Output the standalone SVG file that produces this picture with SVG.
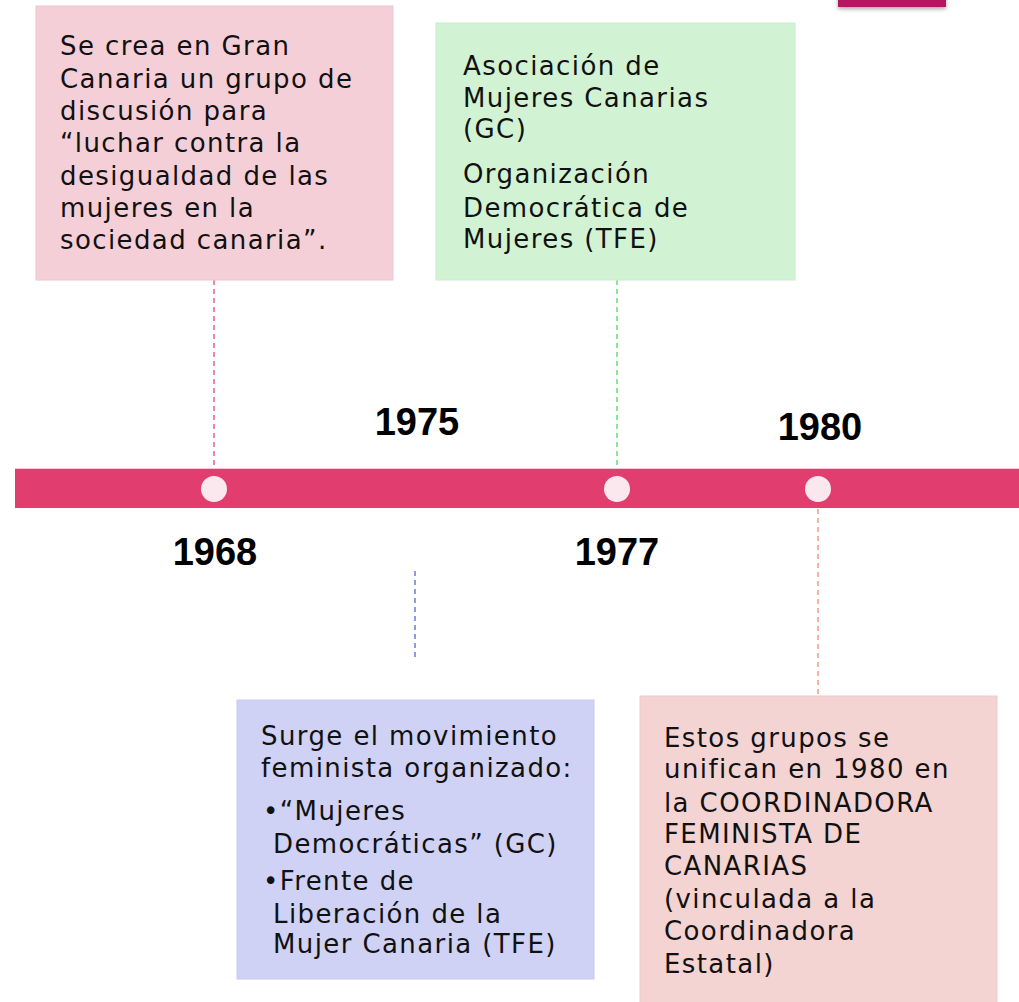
<svg xmlns="http://www.w3.org/2000/svg" width="1019" height="1002" viewBox="0 0 1019 1002">
<defs>
<style>
.t{font-family:"DejaVu Sans","Liberation Sans",sans-serif;font-size:26px;letter-spacing:1.4px;fill:#111}
.y{font-family:"Liberation Sans",Arial,sans-serif;font-size:38px;font-weight:bold;fill:#000;text-anchor:middle}
.dash{stroke-width:1.3;stroke-dasharray:5 4;fill:none}
.dot{fill:#fbe8ef}
</style>
<filter id="sh" x="-20%" y="-50%" width="140%" height="250%"><feDropShadow dx="0" dy="2" stdDeviation="2" flood-color="#000" flood-opacity="0.35"/></filter>
</defs>
<rect x="838" y="-4" width="108" height="11" fill="#b5135e" filter="url(#sh)"/>
<g id="connectors">
<line class="dash" x1="214" y1="280" x2="214" y2="468" stroke="#e8457a"/>
<line class="dash" x1="617" y1="280" x2="617" y2="468" stroke="#4fd95a"/>
<line class="dash" x1="415" y1="571" x2="415" y2="660" stroke="#5b62d6"/>
<line class="dash" x1="818" y1="509" x2="818" y2="696" stroke="#f08a6f"/>
</g>
<g id="timeline">
<rect x="15" y="468" width="1004" height="40" fill="#e13d6f"/>
<line x1="15" y1="468.5" x2="1019" y2="468.5" stroke="#f7c6d4" stroke-width="1"/>
<ellipse class="dot" cx="214" cy="489" rx="13" ry="13"/>
<ellipse class="dot" cx="617" cy="489" rx="13" ry="13"/>
<ellipse class="dot" cx="818" cy="489" rx="13" ry="13"/>
</g>
<g id="years">
<text class="y" x="417" y="435">1975</text>
<text class="y" x="820" y="440">1980</text>
<text class="y" x="215" y="565">1968</text>
<text class="y" x="617" y="565">1977</text>
</g>
<g id="node-1968">
<rect x="36" y="6" width="357" height="274" fill="#f4cfd8" stroke="#f0c4cf" stroke-width="1"/>
<text class="t" x="60" y="55">Se crea en Gran</text>
<text class="t" x="60" y="88">Canaria un grupo de</text>
<text class="t" x="60" y="120">discusión para</text>
<text class="t" x="60" y="152">“luchar contra la</text>
<text class="t" x="60" y="185">desigualdad de las</text>
<text class="t" x="60" y="217">mujeres en la</text>
<text class="t" x="60" y="249">sociedad canaria”.</text>
</g>
<g id="node-1977">
<rect x="436" y="23" width="359" height="257" fill="#d1f3d4" stroke="#c7eecb" stroke-width="1"/>
<text class="t" x="463" y="75">Asociación de</text>
<text class="t" x="463" y="107">Mujeres Canarias</text>
<text class="t" x="463" y="138">(GC)</text>
<text class="t" x="463" y="183">Organización</text>
<text class="t" x="463" y="217">Democrática de</text>
<text class="t" x="463" y="248">Mujeres (TFE)</text>
</g>
<g id="node-1975">
<rect x="237" y="700" width="357" height="279" fill="#d0d2f5" stroke="#c6c9f0" stroke-width="1"/>
<text class="t" x="261" y="745">Surge el movimiento</text>
<text class="t" x="261" y="777">feminista organizado:</text>
<text class="t" x="263" y="820">•“Mujeres</text>
<text class="t" x="273" y="853">Democráticas” (GC)</text>
<text class="t" x="263" y="890">•Frente de</text>
<text class="t" x="273" y="923">Liberación de la</text>
<text class="t" x="273" y="953">Mujer Canaria (TFE)</text>
</g>
<g id="node-1980">
<rect x="640" y="696" width="357" height="310" fill="#f4d3d3" stroke="#efc9c9" stroke-width="1"/>
<text class="t" x="664" y="747">Estos grupos se</text>
<text class="t" x="664" y="778">unifican en 1980 en</text>
<text class="t" x="664" y="812">la COORDINADORA</text>
<text class="t" x="664" y="843">FEMINISTA DE</text>
<text class="t" x="664" y="875">CANARIAS</text>
<text class="t" x="664" y="908">(vinculada a la</text>
<text class="t" x="664" y="940">Coordinadora</text>
<text class="t" x="664" y="973">Estatal)</text>
</g>
</svg>
